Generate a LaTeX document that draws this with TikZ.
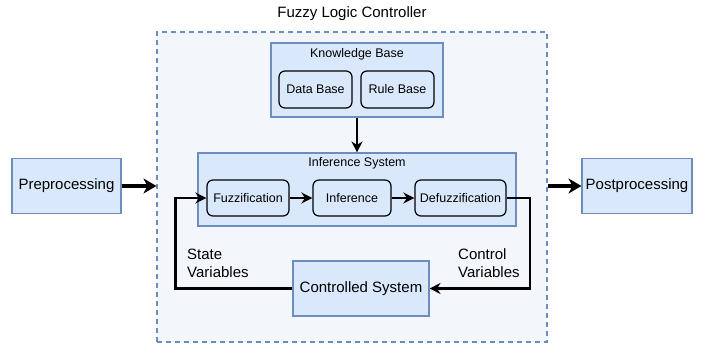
\documentclass[tikz,border=0pt]{standalone}
\usepackage{fontspec}
\setmainfont{Liberation Sans}
\usetikzlibrary{arrows.meta}
\definecolor{boxfill}{HTML}{DAE8FC}
\definecolor{boxline}{HTML}{6C8EBF}
\definecolor{flcfill}{HTML}{F3F7FC}

\begin{document}
\begin{tikzpicture}[x=1pt,y=-1pt,>={Stealth[length=11pt,width=11pt,inset=3.5pt]}]
    \tikzstyle{block}=[draw=boxline,fill=boxfill,line width=1.1pt,inner sep=0pt,font=\fontsize{15}{18}\selectfont]
    \tikzstyle{group}=[block,font=\fontsize{12.5}{15}\selectfont]
    \tikzstyle{unit}=[draw=black,fill=boxfill,line width=1.2pt,rounded corners=6pt,inner sep=0pt,minimum height=36pt,font=\fontsize{12.5}{15}\selectfont]
    \tikzstyle{link}=[->,line width=2.1pt]
    \tikzstyle{io link}=[->,line width=3.8pt,>={Stealth[length=13pt,width=15pt,inset=4pt]}]
    \tikzstyle{annot}=[anchor=west,align=left,inner sep=0pt,font=\fontsize{15}{18}\selectfont]

    \useasboundingbox (0,0) rectangle (710,347);

    % The controller and its title
    \node[draw=boxline,fill=flcfill,dashed,dash pattern=on 5pt off 4pt,line width=1.1pt,
          minimum width=390pt,minimum height=310pt] (FLC) at (352,187) {};
    \node[font=\fontsize{15}{18}\selectfont] (title) at (352,14) {Fuzzy Logic Controller};

    % Knowledge base
    \node[group,minimum width=172pt,minimum height=74pt] (KB) at (357,80) {};
    \node[font=\fontsize{12.5}{15}\selectfont] (KB-label) at (357,54) {Knowledge Base};
    \node[unit,minimum width=73pt,minimum height=37pt] (DB) at (315.5,89.5) {Data Base};
    \node[unit,minimum width=73pt,minimum height=37pt] (RB) at (397.5,89.5) {Rule Base};

    % Inference system
    \node[group,minimum width=318pt,minimum height=73pt] (IS) at (357,189.5) {};
    \node[font=\fontsize{12.5}{15}\selectfont] (IS-label) at (357,163) {Inference System};
    \node[unit,minimum width=82pt] (FZ) at (248,198) {Fuzzification};
    \node[unit,minimum width=78pt] (INF) at (352,198) {Inference};
    \node[unit,minimum width=91pt] (DFZ) at (460.5,198) {Defuzzification};

    % Plant, pre- and postprocessing
    \node[block,minimum width=136pt,minimum height=55pt] (CS) at (361,288.5) {Controlled System};
    \node[block,minimum width=109pt,minimum height=55pt] (PRE) at (66.5,186) {Preprocessing};
    \node[block,minimum width=110pt,minimum height=55pt] (POST) at (637,186) {Postprocessing};

    \node[annot] (SV) at (187,263) {State\\Variables};
    \node[annot] (CV) at (458,263) {Control\\Variables};

    % Connections
    \draw[link] (KB) -- (IS);
    \draw[link] (FZ) -- (INF);
    \draw[link] (INF) -- (DFZ);
    \draw[link] (DFZ.east) -- ++(23,0) |- (CS.east);
    \draw[link] (CS.west) -- ++(-117,0) |- (FZ.west);
    \draw[io link] (PRE.east) -- (PRE.east -| FLC.west);
    \draw[io link] (POST.west -| FLC.east) -- (POST.west);
\end{tikzpicture}
\end{document}
